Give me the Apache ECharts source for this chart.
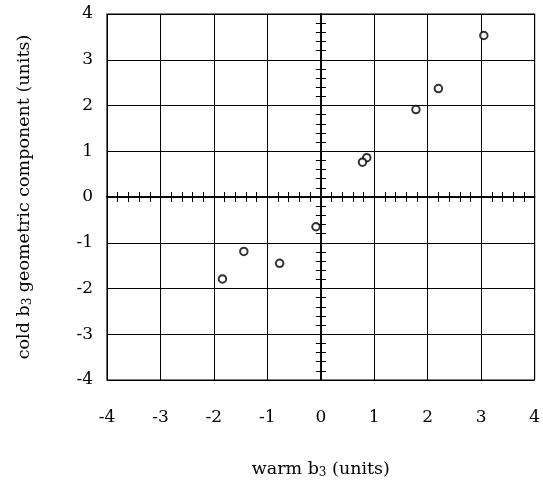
<!DOCTYPE html>
<html>
<head>
<meta charset="utf-8">
<script src="https://cdn.jsdelivr.net/npm/echarts@6/dist/echarts.min.js"></script>
<style>
  html, body { margin: 0; padding: 0; background: #fff; }
  #chart { width: 543px; height: 484px; }
</style>
</head>
<body>
<div id="chart"></div>
<script>
// warm b3 vs cold b3 geometric component, both in units
const warmB3 = [3.05, 2.20, 1.78, 0.86, 0.78, -0.09, -1.44, -0.77, -1.84]
const coldB3 = [3.53, 2.37, 1.91, 0.86, 0.76, -0.65, -1.19, -1.45, -1.79]
const axisMin = -4
const axisMax = 4

const points = warmB3.map((x, i) => [x, coldB3[i]])
const font = 'DejaVu Serif'

const chart = echarts.init(document.getElementById('chart'))

// plain value axis used for the frame labels and grid
const frameAxis = (extra) => Object.assign({
  type: 'value',
  min: axisMin,
  max: axisMax,
  interval: 1,
  axisLine: { show: false },
  axisTick: { show: false },
  splitLine: { show: true, lineStyle: { color: '#000', width: 1 } },
  axisLabel: { color: '#000', fontFamily: font, fontSize: 17 }
}, extra)

// axis through zero, with small ticks every 0.2 (one side per axis)
const zeroAxis = (inside) => ({
  type: 'value',
  min: axisMin,
  max: axisMax,
  interval: 1,
  axisLine: { show: true, onZero: true, lineStyle: { color: '#000', width: 1.5 } },
  axisTick: { show: true, inside: inside, length: 5, lineStyle: { color: '#000' } },
  minorTick: { show: true, splitNumber: 5, length: 5, lineStyle: { color: '#000' } },
  splitLine: { show: false },
  axisLabel: { show: false }
})

const nameStyle = {
  color: '#000', fontFamily: font, fontSize: 17.5,
  rich: { sub: { fontFamily: font, fontSize: 12, padding: [7, 0, 0, 0] } }
}

const option = {
  animation: false,
  grid: {
    left: 107,
    right: 7,
    top: 14,
    bottom: 98,
    show: true,
    borderColor: '#000',
    borderWidth: 1.2
  },
  xAxis: [
    frameAxis({
      position: 'bottom',
      axisLabel: { color: '#000', fontFamily: font, fontSize: 17, margin: 29 },
      name: 'warm b{sub|3} (units)',
      nameLocation: 'middle',
      nameGap: 80,
      nameTextStyle: nameStyle
    }),
    zeroAxis(true),
    zeroAxis(false)
  ],
  yAxis: [
    frameAxis({
      position: 'left',
      axisLabel: { color: '#000', fontFamily: font, fontSize: 17, margin: 14 },
      name: 'cold b{sub|3} geometric component (units)',
      nameLocation: 'middle',
      nameGap: 73,
      nameTextStyle: nameStyle
    }),
    zeroAxis(true),
    zeroAxis(false)
  ],
  series: [
    {
      type: 'scatter',
      data: points,
      symbol: 'emptyCircle',
      symbolSize: 7.5,
      itemStyle: { color: '#000', borderColor: '#000', borderWidth: 1.2 },
      z: 5
    }
  ]
}

chart.setOption(option)
</script>
</body>
</html>
